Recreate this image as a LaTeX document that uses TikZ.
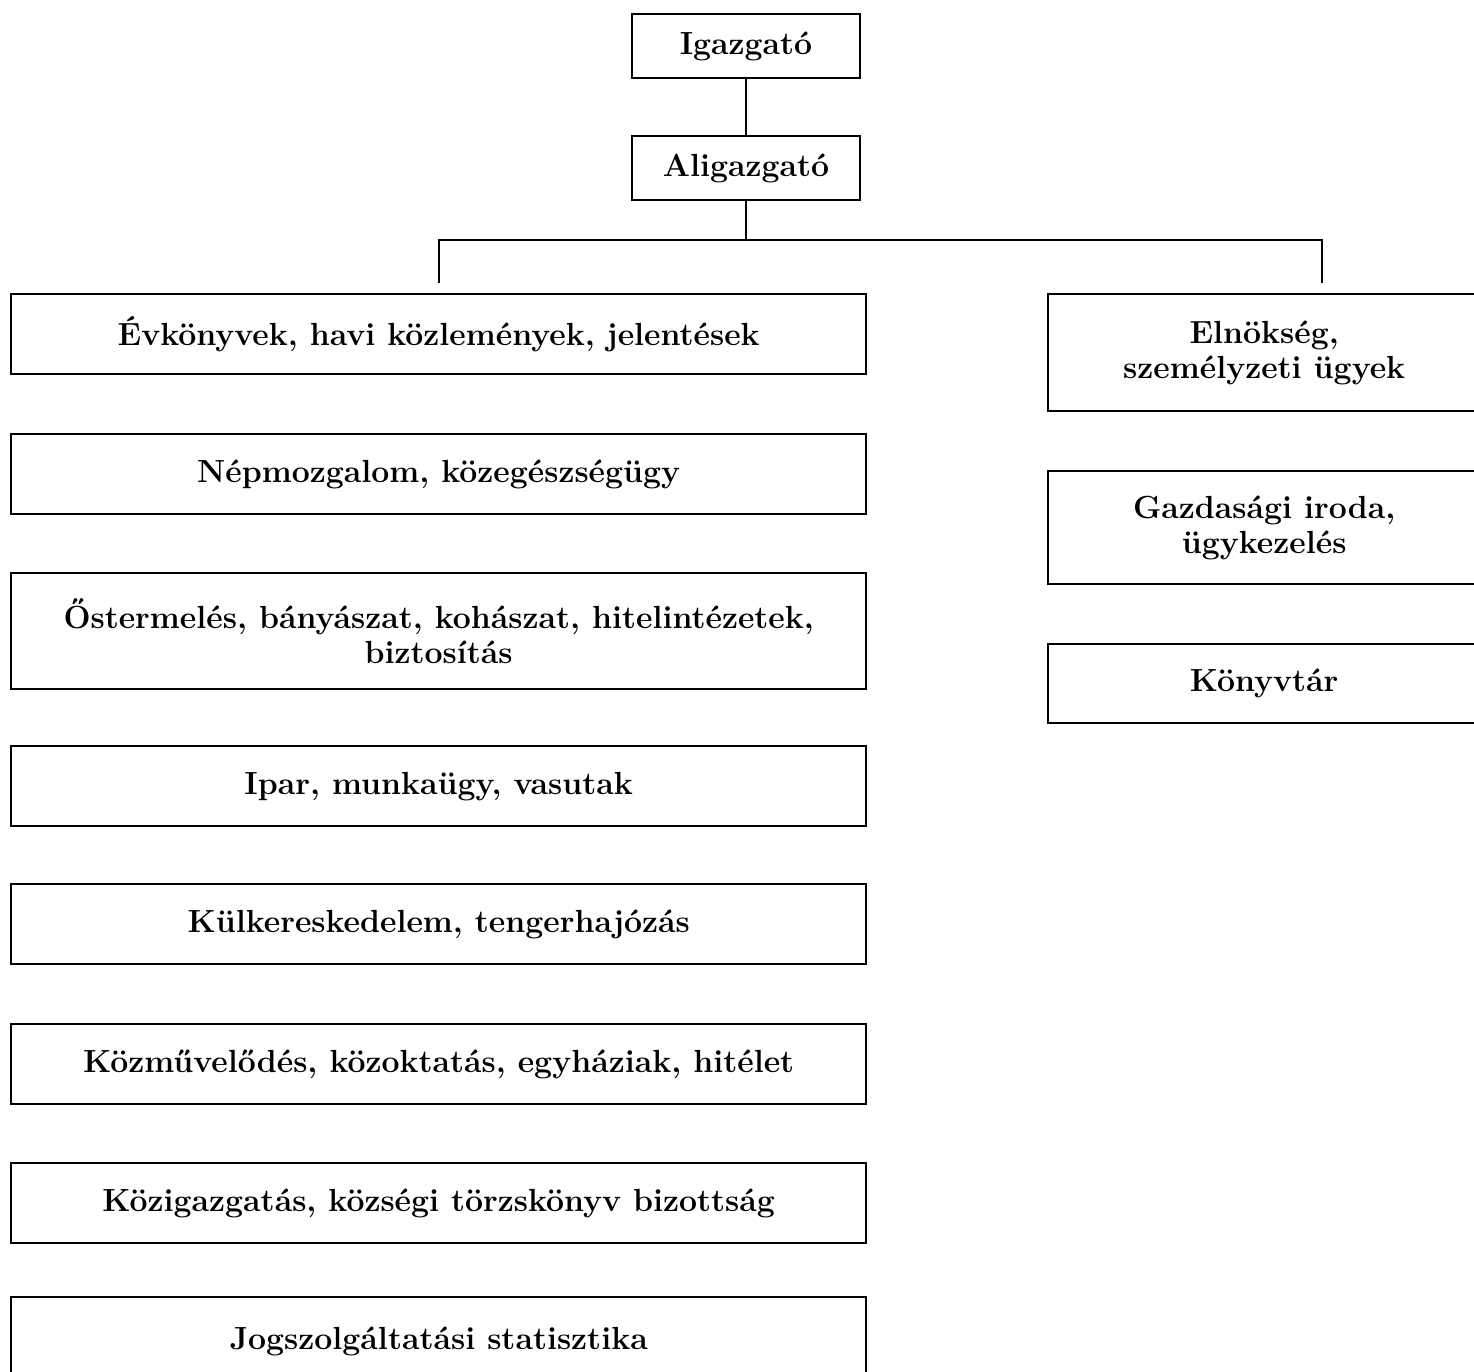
\documentclass[tikz,border=0pt]{standalone}
\usepackage{tikz}
\usetikzlibrary{positioning}

\begin{document}
\begin{tikzpicture}[
		x = 0.5pt, y = -0.5pt, line width = 1.2pt,
		box/.style = {draw, rectangle, align = center, inner sep = 0pt,
			font = \fontsize{16}{17.5}\selectfont\bfseries},
		topbox/.style = {box, minimum width = 114pt, minimum height = 32pt},
		leftbox/.style = {box, anchor = north west, minimum width = 427.5pt, minimum height = 40pt},
		rightbox/.style = {box, anchor = north west, minimum width = 216pt}
		]
		\useasboundingbox (0,0) rectangle (1474,1372);

		% head of the office
		\node[topbox] (Ig)  at (746,46)  {Igazgató};
		\node[topbox] (Ali) at (746,168) {Aligazgató};

		% left column: statistical departments
		\node[leftbox] (Ev)   at (10,293)  {Évkönyvek, havi közlemények, jelentések};
		\node[leftbox] (Nep)  at (10,433)  {Népmozgalom, közegészségügy};
		\node[leftbox, minimum height = 58pt] (Ost) at (10,572)
			{Őstermelés, bányászat, kohászat, hitelintézetek,\\ biztosítás};
		\node[leftbox] (Ipar) at (10,745)  {Ipar, munkaügy, vasutak};
		\node[leftbox] (Kul)  at (10,883)  {Külkereskedelem, tengerhajózás};
		\node[leftbox] (Kozm) at (10,1023) {Közművelődés, közoktatás, egyháziak, hitélet};
		\node[leftbox] (Kozi) at (10,1162) {Közigazgatás, községi törzskönyv bizottság};
		\node[leftbox, minimum height = 44pt] (Jog) at (10,1296) {Jogszolgáltatási statisztika};

		% right column: general services
		\node[rightbox, minimum height = 58.5pt] (El)  at (1047,293) {Elnökség,\\ személyzeti ügyek};
		\node[rightbox, minimum height = 56.5pt] (Gaz) at (1047,470) {Gazdasági iroda,\\ ügykezelés};
		\node[rightbox, minimum height = 39.5pt] (Kon) at (1047,643) {Könyvtár};

		% connectors
		\coordinate (J) at (749,240);
		\coordinate (R) at (1322,283);
		\draw (Ig) -- (Ali);
		\draw (Ali.south) -- (Ali.south |- J);
		\draw[shorten >= 5pt] (J) -| (Ev.north);
		\draw (J) -| (R);
	\end{tikzpicture}
\end{document}
